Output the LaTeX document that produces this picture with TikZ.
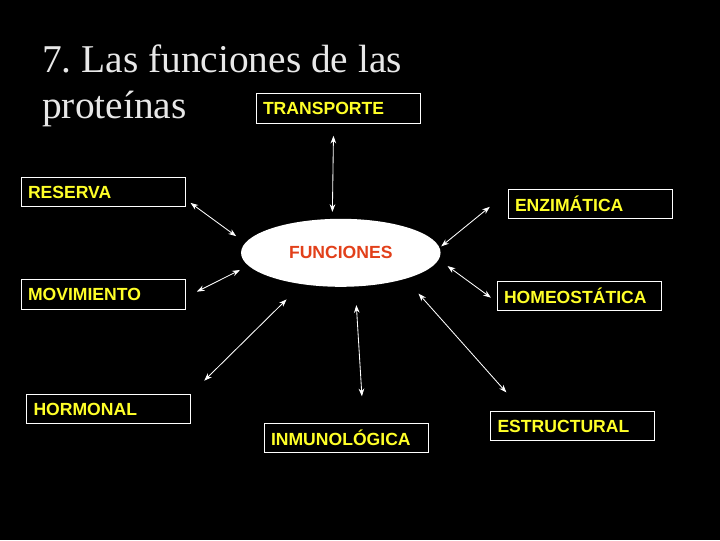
\documentclass[tikz,border=0pt]{standalone}
\usepackage{fontspec}
\setmainfont{Liberation Serif}
\newfontfamily\boxfont{Liberation Sans}
\usetikzlibrary{shapes.geometric}
\usetikzlibrary{arrows.meta}
\definecolor{titlegray}{RGB}{232,232,232}
\definecolor{boxyellow}{RGB}{255,255,40}
\definecolor{funcred}{RGB}{226,64,26}
\tikzset{
  funbox/.style={draw=white, line width=0.7pt, text=boxyellow,
    font=\boxfont\bfseries\fontsize{12.5}{15}\selectfont,
    minimum height=29.5*\px, text width=150*\px, inner xsep=7*\px, inner ysep=0pt, align=left},
  link/.style={draw=white, line width=0.6pt,
    arrows={Stealth[length=5.5pt,width=4pt]-Stealth[length=5.5pt,width=4pt]}}
}
\frenchspacing

\begin{document}
\begin{tikzpicture}[x=0.025cm, y=-0.025cm]
\def\px{0.025cm}

\fill[black] (0, 0) rectangle (720, 540);

\node (title) [anchor=north west, inner sep=0pt, align=left, text=titlegray,
  font=\fontsize{28}{32.4}\selectfont] at (42, 44.5) {7. Las funciones de las\\proteínas};

\node (fun) [ellipse, fill=white, minimum width=199.5*\px, minimum height=68*\px, inner sep=0pt,
  text=funcred, font=\boxfont\bfseries\fontsize{12.5}{15}\selectfont] at (340.8, 252.8) {FUNCIONES};

\node (transp)  [funbox] at (338, 108.5) {TRANSPORTE};
\node (reserva) [funbox] at (103, 192) {RESERVA};
\node (enzim)   [funbox] at (590, 204) {ENZIMÁTICA};
\node (movim)   [funbox] at (103, 294.5) {MOVIMIENTO};
\node (homeo)   [funbox] at (579, 296) {HOMEOSTÁTICA};
\node (hormon)  [funbox] at (108.5, 409) {HORMONAL};
\node (inmuno)  [funbox] at (346, 437.8) {INMUNOLÓGICA};
\node (estruct) [funbox] at (572.5, 426) {ESTRUCTURAL};

\draw [link, shorten <=12*\px, shorten >=6.7*\px] (transp.-106) -- (fun.104);
\draw [link, shorten <=6.2*\px, shorten >=11.2*\px] (reserva.-5) -- (fun.174);
\draw [link, shorten <=22.8*\px, shorten >=2*\px] (enzim.172) -- (fun.3);
\draw [link, shorten <=12.7*\px, shorten >=9.3*\px] (movim.-2.5) -- (fun.-172);
\draw [link, shorten <=7*\px, shorten >=10.9*\px] (homeo.184) -- (fun.-4.5);
\draw [link, shorten <=18.6*\px, shorten >=21.4*\px] (hormon.north east) -- (fun.-141);
\draw [link, shorten <=26.3*\px, shorten >=18.4*\px] (inmuno.41.5) -- (fun.-67);
\draw [link, shorten <=24.5*\px, shorten >=19.6*\px] (estruct.163) -- (fun.-22);

\end{tikzpicture}
\end{document}
